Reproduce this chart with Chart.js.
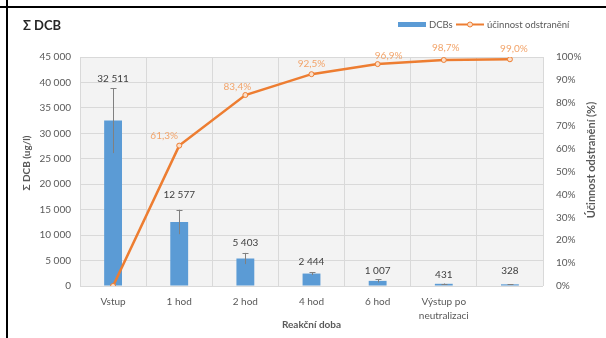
<!DOCTYPE html>
<html>
<head>
<meta charset="utf-8">
<script src="https://cdn.jsdelivr.net/npm/chart.js@4.4.1/dist/chart.umd.min.js"></script>
<style>
html,body{margin:0;padding:0;background:#fff;}
#wrap{position:relative;width:606px;height:338px;}
canvas{display:block;}
</style>
</head>
<body>
<div id="wrap"><canvas id="c" width="606" height="338"></canvas></div>
<script>
const categories = ['Vstup', '1 hod', '2 hod', '4 hod', '6 hod', ['Výstup po', 'neutralizaci'], ''];
const dcbValues = [32511, 12577, 5403, 2444, 1007, 431, 328];
const dcbErrors = [6400, 2400, 1100, 300, 300, 60, 60];
const efficiency = [0, 61.3, 83.4, 92.5, 96.9, 98.7, 99.0];
const leftTicks = [0, 5000, 10000, 15000, 20000, 25000, 30000, 35000, 40000, 45000];
const rightTicks = [0, 10, 20, 30, 40, 50, 60, 70, 80, 90, 100];

const FONT = 'Lato, "Open Sans", sans-serif';
const BLUE = '#5B9BD5';
const ORANGE = '#ED7D31';
const TXT = '#595959';

function fmtThousands(v) {
  return String(v).replace(/\B(?=(\d{3})+(?!\d))/g, ' ');
}

const decorPlugin = {
  id: 'decor',
  beforeDraw(chart) {
    const {ctx, chartArea: a} = chart;
    ctx.save();
    ctx.fillStyle = '#f3f3f3';
    ctx.fillRect(a.left, a.top, a.right - a.left, a.bottom - a.top);
    ctx.restore();
  },
  afterDatasetsDraw(chart) {
    const {ctx} = chart;
    const x = chart.scales.x, y = chart.scales.y;
    const opts = chart.options.plugins.decor;
    ctx.save();
    // error bars
    ctx.strokeStyle = '#808080';
    ctx.lineWidth = 1;
    dcbValues.forEach((v, i) => {
      const e = dcbErrors[i];
      const px = Math.round(x.getPixelForValue(i)) + 0.5;
      const top = y.getPixelForValue(v + e);
      const bot = y.getPixelForValue(Math.max(0, v - e));
      ctx.beginPath();
      ctx.moveTo(px, top); ctx.lineTo(px, bot);
      ctx.moveTo(px - 3, Math.round(top) + 0.5); ctx.lineTo(px + 3, Math.round(top) + 0.5);
      ctx.stroke();
    });
    // bar value labels
    ctx.fillStyle = '#404040';
    ctx.font = '10px ' + FONT;
    ctx.textAlign = 'center';
    ctx.textBaseline = 'bottom';
    dcbValues.forEach((v, i) => {
      const px = x.getPixelForValue(i);
      const top = y.getPixelForValue(v + dcbErrors[i]);
      ctx.fillText(fmtThousands(v), px, top - opts.barLabelGap[i]);
    });
    ctx.restore();
  },
  afterDraw(chart) {
    const {ctx} = chart;
    const x = chart.scales.x, y1 = chart.scales.y1;
    const opts = chart.options.plugins.decor;
    ctx.save();
    // percentage labels
    ctx.fillStyle = '#F2A46A';
    ctx.font = '10px ' + FONT;
    ctx.textAlign = 'center';
    ctx.textBaseline = 'middle';
    efficiency.forEach((v, i) => {
      if (i === 0) return;
      const px = x.getPixelForValue(i) + opts.pctDx[i];
      const py = y1.getPixelForValue(v) + opts.pctDy[i];
      ctx.fillText(v.toFixed(1).replace('.', ',') + '%', px, py);
    });
    // chart title
    ctx.fillStyle = '#262626';
    ctx.font = 'bold 13px ' + FONT;
    ctx.textAlign = 'left';
    ctx.fillText('Σ DCB', 23, 26);
    // legend
    ctx.font = '9.5px ' + FONT;
    ctx.fillStyle = BLUE;
    ctx.fillRect(398, 22, 28, 5);
    ctx.fillStyle = TXT;
    ctx.fillText('DCBs', 429, 25);
    ctx.strokeStyle = ORANGE;
    ctx.lineWidth = 2;
    ctx.beginPath(); ctx.moveTo(456, 24.5); ctx.lineTo(484, 24.5); ctx.stroke();
    ctx.fillStyle = '#fbe0cc';
    ctx.lineWidth = 1;
    ctx.beginPath(); ctx.arc(470, 24.5, 2.5, 0, Math.PI * 2); ctx.fill(); ctx.stroke();
    ctx.fillStyle = TXT;
    ctx.fillText('účinnost odstranění', 487, 25);
    // axis titles
    ctx.font = 'bold 10px ' + FONT;
    ctx.fillStyle = TXT;
    ctx.textAlign = 'center';
    ctx.save();
    ctx.translate(27, 163); ctx.rotate(-Math.PI / 2);
    ctx.fillText('Σ DCB (ug/l)', 0, 0);
    ctx.restore();
    ctx.font = 'bold 11px ' + FONT;
    ctx.save();
    ctx.translate(591, 160); ctx.rotate(-Math.PI / 2);
    ctx.fillText('Účinnost odstranění (%)', 0, 0);
    ctx.restore();
    // frame lines
    ctx.fillStyle = '#000';
    ctx.fillRect(0, 6, 606, 2);
    ctx.fillRect(6, 0, 2, 338);
    ctx.restore();
  }
};

new Chart(document.getElementById('c'), {
  type: 'bar',
  data: {
    labels: categories,
    datasets: [
      {
        type: 'line',
        label: 'účinnost odstranění',
        data: efficiency,
        yAxisID: 'y1',
        borderColor: ORANGE,
        borderWidth: 2.5,
        pointRadius: 2.5,
        pointBorderWidth: 1,
        pointBorderColor: ORANGE,
        pointBackgroundColor: '#fbe0cc',
        tension: 0,
        order: 0
      },
      {
        type: 'bar',
        label: 'DCBs',
        data: dcbValues,
        yAxisID: 'y',
        backgroundColor: BLUE,
        barPercentage: 0.27,
        categoryPercentage: 1,
        order: 1
      }
    ]
  },
  options: {
    responsive: false,
    animation: false,
    devicePixelRatio: 1,
    layout: {padding: {top: 57, left: 0, right: 0, bottom: 0}},
    plugins: {
      legend: {display: false},
      title: {display: false},
      tooltip: {enabled: false},
      decor: {
        pctDx: [0, -15, -8, 0, 11, 2, 4],
        pctDy: [0, -10, -8, -10, -8, -12, -11],
        barLabelGap: [4, 10, 5, 5, 4, 4, 8]
      }
    },
    scales: {
      x: {
        offset: true,
        grid: {display: true, color: '#d9d9d9', drawTicks: false, offset: true},
        border: {display: false},
        ticks: {color: TXT, font: {family: FONT, size: 10, lineHeight: 1.4}, padding: 9, maxRotation: 0, autoSkip: false},
        title: {display: true, text: 'Reakční doba', color: TXT, font: {family: FONT, size: 10, weight: 'bold'}, padding: {top: 4, bottom: 7}},
        afterFit(s) { s.height = 52; }
      },
      y: {
        position: 'left',
        min: 0, max: 45000,
        afterBuildTicks(s) { s.ticks = leftTicks.map(v => ({value: v})); },
        grid: {color: '#d9d9d9', drawTicks: false},
        border: {display: false},
        ticks: {color: TXT, font: {family: FONT, size: 10}, padding: 9, callback: v => fmtThousands(v)},
        afterFit(s) { s.width = 80; }
      },
      y1: {
        position: 'right',
        min: 0, max: 100,
        afterBuildTicks(s) { s.ticks = rightTicks.map(v => ({value: v})); },
        grid: {display: false, drawTicks: false},
        border: {display: false},
        ticks: {color: TXT, font: {family: FONT, size: 10}, padding: 13, callback: v => v + '%'},
        afterFit(s) { s.width = 63; }
      }
    }
  },
  plugins: [decorPlugin]
});
</script>
</body>
</html>
